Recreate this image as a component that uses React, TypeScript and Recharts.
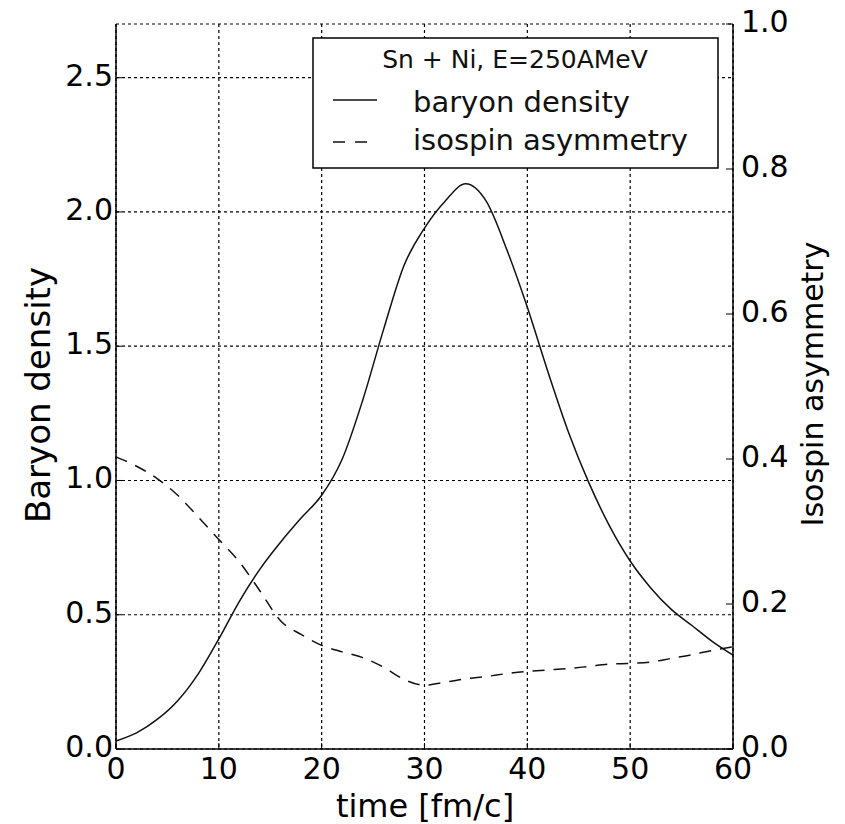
import {
  LineChart,
  Line,
  XAxis,
  YAxis,
  CartesianGrid,
  Legend,
} from "recharts";

const FONT = "DejaVu Sans, Verdana, sans-serif";

// time [fm/c]
const times = [
  0, 2, 4, 6, 8, 10, 12, 14, 16, 18, 20, 22, 24, 26, 28, 30, 32, 34, 36, 38,
  40, 42, 44, 46, 48, 50, 52, 54, 56, 58, 60,
];

// baryon density (left axis)
const baryonDensity = [
  0.03, 0.06, 0.11, 0.18, 0.28, 0.41, 0.55, 0.67, 0.77, 0.86, 0.945, 1.08,
  1.3, 1.56, 1.8, 1.94, 2.04, 2.105, 2.04, 1.86, 1.645, 1.405, 1.18, 0.99,
  0.83, 0.7, 0.6, 0.52, 0.46, 0.4, 0.35,
];

// isospin asymmetry (right axis)
const isospinAsymmetry = [
  0.403, 0.39, 0.373, 0.35, 0.32, 0.289, 0.258, 0.218, 0.177, 0.158, 0.143,
  0.134, 0.126, 0.113, 0.096, 0.088, 0.092, 0.097, 0.1, 0.104, 0.107, 0.109,
  0.111, 0.114, 0.117, 0.118, 0.12, 0.125, 0.13, 0.136, 0.141,
];

const xTicks = [0, 10, 20, 30, 40, 50, 60];
const leftTicks = [0, 0.5, 1.0, 1.5, 2.0, 2.5];
const rightTicks = [0, 0.2, 0.4, 0.6, 0.8, 1.0];

const legendTitle = "Sn + Ni, E=250AMeV";

const data = times.map((t, i) => ({
  time: t,
  baryon: baryonDensity[i],
  isospin: isospinAsymmetry[i],
}));

const LeftTick = ({ x, y, payload }: any) => (
  <g>
    <line x1={x + 3} x2={x + 9} y1={y} y2={y} stroke="#000" strokeWidth={1} />
    <text x={x} y={y + 8} textAnchor="end" fontSize={30} fontFamily={FONT} fill="#000">
      {payload.value.toFixed(1)}
    </text>
  </g>
);

const RightTick = ({ x, y, payload }: any) => (
  <g>
    <line x1={x - 8} x2={x - 15} y1={y} y2={y} stroke="#000" strokeWidth={1} />
    <text x={x} y={y + 8} textAnchor="start" fontSize={30} fontFamily={FONT} fill="#000">
      {payload.value.toFixed(1)}
    </text>
  </g>
);

const BottomTick = ({ x, y, payload }: any) => (
  <g>
    <line x1={x} x2={x} y1={y} y2={y - 6} stroke="#000" strokeWidth={1} />
    <text x={x} y={y + 30} textAnchor="middle" fontSize={30} fontFamily={FONT} fill="#000">
      {payload.value}
    </text>
  </g>
);

const TopTick = ({ x, y }: any) => (
  <line x1={x} x2={x} y1={y} y2={y + 6} stroke="#000" strokeWidth={1} />
);

const renderLegend = ({ payload }: any) => {
  const items = payload || [];
  return (
    <svg width={408} height={133} style={{ display: "block" }}>
      <rect x={1} y={1} width={405} height={130} fill="#fff" stroke="#000" strokeWidth={1.5} />
      <text x={203} y={31} textAnchor="middle" fontSize={25} fontFamily={FONT} fill="#111">
        {legendTitle}
      </text>
      {items.map((entry: any, i: number) => {
        const dashed = i === 1;
        const cy = 63 + i * 42;
        return (
          <g key={entry.value}>
            <line
              x1={21}
              x2={dashed ? 56 : 65}
              y1={cy}
              y2={cy}
              stroke="#111"
              strokeWidth={1.5}
              strokeDasharray={dashed ? "12 10" : undefined}
            />
            <text x={101} y={cy + 12 - i * 4} fontSize={29} fontFamily={FONT} fill="#111">
              {entry.value}
            </text>
          </g>
        );
      })}
    </svg>
  );
};

export default function App() {
  return (
    <div style={{ position: "absolute", left: 0, top: 0, background: "#fff" }}>
      <LineChart
        width={845}
        height={824}
        data={data}
        margin={{ top: 24, right: 0, bottom: 0, left: 0 }}
      >
        <CartesianGrid
          yAxisId="left"
          stroke="#000"
          strokeDasharray="3 3"
          strokeWidth={1.2}
        />
        <XAxis
          dataKey="time"
          type="number"
          domain={[0, 60]}
          ticks={xTicks}
          height={75}
          axisLine={{ stroke: "#000", strokeWidth: 1.5 }}
          tickLine={false}
          tickSize={0}
          tickMargin={0}
          tick={<BottomTick />}
          label={{
            content: () => (
              <text x={425} y={817} textAnchor="middle" fontSize={32} fontFamily={FONT} fill="#000">
                time [fm/c]
              </text>
            ),
          }}
        />
        <XAxis
          xAxisId="top"
          orientation="top"
          dataKey="time"
          type="number"
          domain={[0, 60]}
          ticks={xTicks}
          height={0}
          axisLine={{ stroke: "#000", strokeWidth: 1.5 }}
          tickLine={false}
          tickSize={0}
          tickMargin={0}
          tick={<TopTick />}
        />
        <YAxis
          yAxisId="left"
          type="number"
          domain={[0, 2.7]}
          ticks={leftTicks}
          width={116}
          axisLine={{ stroke: "#000", strokeWidth: 1.5 }}
          tickLine={false}
          tickSize={0}
          tickMargin={3}
          tick={<LeftTick />}
          label={{
            content: () => (
              <text
                transform="translate(50, 395) rotate(-90)"
                textAnchor="middle"
                fontSize={34}
                fontFamily={FONT}
                fill="#000"
              >
                Baryon density
              </text>
            ),
          }}
        />
        <YAxis
          yAxisId="right"
          orientation="right"
          type="number"
          domain={[0, 1]}
          ticks={rightTicks}
          width={112}
          axisLine={{ stroke: "#000", strokeWidth: 1.5 }}
          tickLine={false}
          tickSize={0}
          tickMargin={8}
          tick={<RightTick />}
          label={{
            content: () => (
              <text
                transform="translate(823, 384) rotate(-90)"
                textAnchor="middle"
                fontSize={30}
                fontFamily={FONT}
                fill="#000"
              >
                Isospin asymmetry
              </text>
            ),
          }}
        />
        <Line
          yAxisId="left"
          dataKey="baryon"
          name="baryon density"
          type="monotone"
          stroke="#111"
          strokeWidth={1.5}
          dot={false}
          isAnimationActive={false}
        />
        <Line
          yAxisId="right"
          dataKey="isospin"
          name="isospin asymmetry"
          type="monotone"
          stroke="#111"
          strokeWidth={1.5}
          strokeDasharray="12 9"
          dot={false}
          isAnimationActive={false}
        />
        <Legend
          layout="vertical"
          align="center"
          verticalAlign="middle"
          content={renderLegend}
          wrapperStyle={{ left: 312, top: 37, width: 408, height: 133 }}
        />
      </LineChart>
    </div>
  );
}
